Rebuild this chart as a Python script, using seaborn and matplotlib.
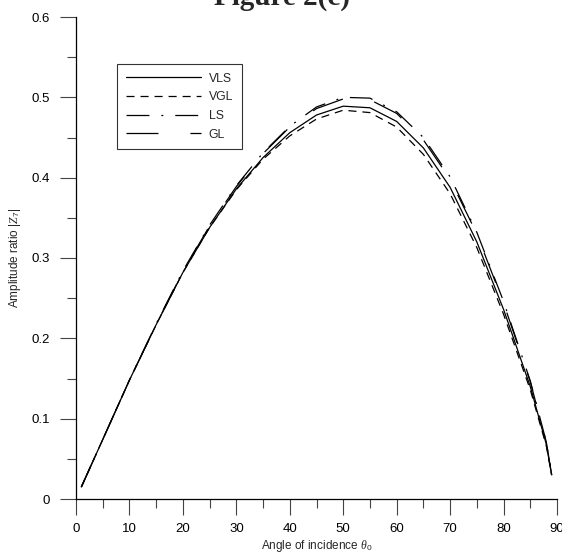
import matplotlib
matplotlib.use("Agg")
import matplotlib.pyplot as plt
from matplotlib.ticker import MultipleLocator
import seaborn as sns
import pandas as pd

theta = [1, 5, 10, 15, 20, 25, 30, 35, 40, 45, 50, 55, 60, 65, 70, 75, 80, 85, 88, 89]
vls = [0.015, 0.074, 0.148, 0.217, 0.282, 0.338, 0.386, 0.425, 0.456, 0.478, 0.489, 0.487,
       0.470, 0.437, 0.388, 0.320, 0.236, 0.140, 0.068, 0.030]
vgl = [0.015, 0.074, 0.148, 0.217, 0.282, 0.338, 0.385, 0.423, 0.452, 0.473, 0.484, 0.481,
       0.463, 0.429, 0.380, 0.313, 0.230, 0.136, 0.066, 0.030]
ls_ = [0.015, 0.074, 0.148, 0.218, 0.284, 0.341, 0.390, 0.431, 0.464, 0.488, 0.500, 0.499,
       0.482, 0.450, 0.401, 0.332, 0.246, 0.147, 0.071, 0.030]
gl = [0.015, 0.074, 0.148, 0.217, 0.283, 0.340, 0.389, 0.430, 0.463, 0.486, 0.498, 0.497,
      0.480, 0.447, 0.398, 0.330, 0.244, 0.146, 0.071, 0.030]
series_names = ["VLS", "VGL", "LS", "GL"]
x_ticks = [0, 10, 20, 30, 40, 50, 60, 70, 80, 90]
y_ticks = [0, 0.1, 0.2, 0.3, 0.4, 0.5, 0.6]

df = pd.concat([
    pd.DataFrame({"theta": theta, "ratio": v, "model": n})
    for n, v in zip(series_names, [vls, vgl, ls_, gl])
], ignore_index=True)

sns.set_theme(style="ticks")
plt.rcParams["font.family"] = ["Liberation Sans", "DejaVu Sans"]
plt.rcParams["lines.scale_dashes"] = False
plt.rcParams["mathtext.fontset"] = "custom"
plt.rcParams["mathtext.rm"] = "Liberation Sans"
plt.rcParams["mathtext.it"] = "Liberation Serif:italic"

fig = plt.figure(figsize=(5.62, 5.54), dpi=100)
ax = fig.add_axes([76 / 562, 1 - 499 / 554, (557 - 76) / 562, (499 - 17) / 554])

dashes = {
    "VLS": "",
    "VGL": (5.8, 4.3),
    "LS": (16.5, 8.6, 1.4, 8.6),
    "GL": (23, 23),
}
sns.lineplot(data=df, x="theta", y="ratio", style="model", dashes=dashes,
             color="black", linewidth=0.9, ax=ax, legend=True)

ax.set_xlim(0, 90)
ax.set_ylim(0, 0.6)
ax.set_xticks(x_ticks)
ax.set_yticks(y_ticks)
ax.set_xticklabels([str(t) for t in x_ticks])
ax.set_yticklabels(["0"] + [f"{t:.1f}" for t in y_ticks[1:]])
ax.xaxis.set_minor_locator(MultipleLocator(5))
ax.yaxis.set_minor_locator(MultipleLocator(0.05))
ax.tick_params(which="major", direction="out", length=11.5, width=0.8, color="#444444",
               labelsize=9.5, labelcolor="black")
ax.tick_params(axis="x", which="major", pad=6)
ax.tick_params(axis="y", which="major", pad=7)
ax.tick_params(which="minor", direction="out", length=6.5, width=0.8, color="#444444")
for s in ["top", "right"]:
    ax.spines[s].set_visible(False)
for s in ["left", "bottom"]:
    ax.spines[s].set_linewidth(0.9)
    ax.spines[s].set_color("black")

ax.set_xlabel(r"Angle of incidence $\theta_0$", fontsize=8.5, labelpad=2)
ax.set_ylabel(r"Amplitude ratio $|Z_7|$", fontsize=8.5, labelpad=6)

leg = ax.legend(loc="upper left", bbox_to_anchor=(117 / 562, 1 - 64 / 554),
                bbox_transform=fig.transFigure, fontsize=8.8, frameon=True,
                fancybox=False, handlelength=6.2, handletextpad=0.6,
                labelspacing=0.55, borderpad=0.7, borderaxespad=0)
leg.get_frame().set_edgecolor("black")
leg.get_frame().set_linewidth(0.8)

fig.text(282 / 562, 1 - 5 / 554, "Figure 2(c)", ha="center", va="baseline",
         fontsize=21, fontweight="bold", family="Liberation Serif")

fig.savefig("out.png", dpi=100)
